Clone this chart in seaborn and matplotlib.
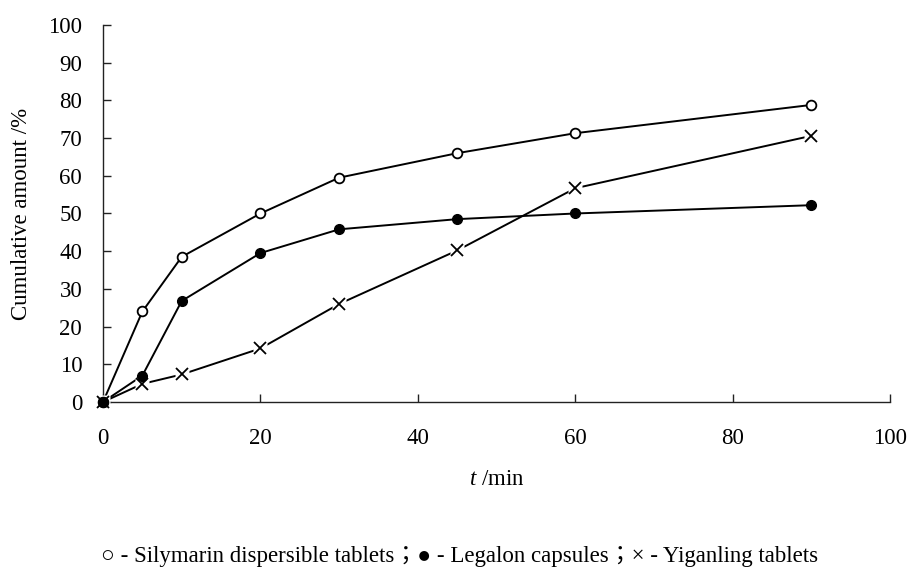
import matplotlib
matplotlib.use("Agg")
import matplotlib.pyplot as plt
import seaborn as sns
import pandas as pd

time_min = [0, 5, 10, 20, 30, 45, 60, 90]
silymarin = [0, 24.0, 38.5, 50.0, 59.5, 66.0, 71.3, 78.8]
legalon = [0, 7.0, 26.8, 39.5, 45.8, 48.5, 50.0, 52.2]
yiganling = [0, 4.8, 7.3, 14.2, 26.0, 40.2, 56.7, 70.6]
series_names = ["Silymarin dispersible tablets", "Legalon capsules", "Yiganling tablets"]

sns.set_theme(style="white")
plt.rcParams['font.family'] = ['Liberation Serif', 'DejaVu Serif', 'Noto Sans CJK TC']
plt.rcParams['mathtext.fontset'] = 'custom'
plt.rcParams['mathtext.it'] = 'Liberation Serif:italic'
plt.rcParams['mathtext.rm'] = 'Liberation Serif'

FS = 16.5

df = pd.DataFrame({
    "t": time_min * 3,
    "v": silymarin + legalon + yiganling,
    "s": [series_names[0]] * len(time_min) + [series_names[1]] * len(time_min) + [series_names[2]] * len(time_min),
})

fig = plt.figure(figsize=(9.1, 5.68), dpi=100)
ax = fig.add_axes([0.1132, 0.2923, 0.865, 0.6637])

for name in series_names:
    sub = df[df.s == name]
    sns.lineplot(data=sub, x="t", y="v", ax=ax, color="black", lw=1.4, legend=False, zorder=2)

s0 = df[df.s == series_names[0]]
s1 = df[df.s == series_names[1]]
s2 = df[df.s == series_names[2]]
ax.plot(s0.t, s0.v, ls="none", marker="o", ms=7, mfc="white", mec="black", mew=1.3, zorder=4, clip_on=False)
ax.plot(s1.t, s1.v, ls="none", marker="o", ms=7, mfc="black", mec="black", zorder=4, clip_on=False)
ax.plot(s2.t, s2.v, ls="none", marker="s", ms=10, mfc="white", mec="none", zorder=3, clip_on=False)
ax.plot(s2.t, s2.v, ls="none", marker="x", ms=9, mec="black", mew=1.3, zorder=4, clip_on=False)

ax.set_xlim(0, 100)
ax.set_ylim(0, 100)
ax.set_xticks(range(0, 101, 20))
ax.set_yticks(range(0, 101, 10))
for sp in ["top", "right"]:
    ax.spines[sp].set_visible(False)
for sp in ["left", "bottom"]:
    ax.spines[sp].set_color("#222222")
    ax.spines[sp].set_linewidth(1.0)
ax.tick_params(axis="both", direction="in", length=6, width=1.0, color="#222222",
               labelsize=FS, labelcolor="black", left=True, bottom=True)
ax.tick_params(axis="y", pad=15)
ax.tick_params(axis="x", pad=19)

ax.set_xlabel(r"$t$ /min", fontsize=FS, color="black", labelpad=14)
ax.set_ylabel("Cumulative amount /%", fontsize=FS, color="black", labelpad=12)

fig.text(0.505, 0.021, "\u25cb - Silymarin dispersible tablets\uff1b\u25cf - Legalon capsules\uff1b\u00d7 - Yiganling tablets",
         ha="center", va="center", fontsize=FS, color="black",
         family=['Liberation Serif', 'Noto Sans CJK TC', 'DejaVu Sans'])

fig.savefig("out.png", dpi=100, facecolor="white")
